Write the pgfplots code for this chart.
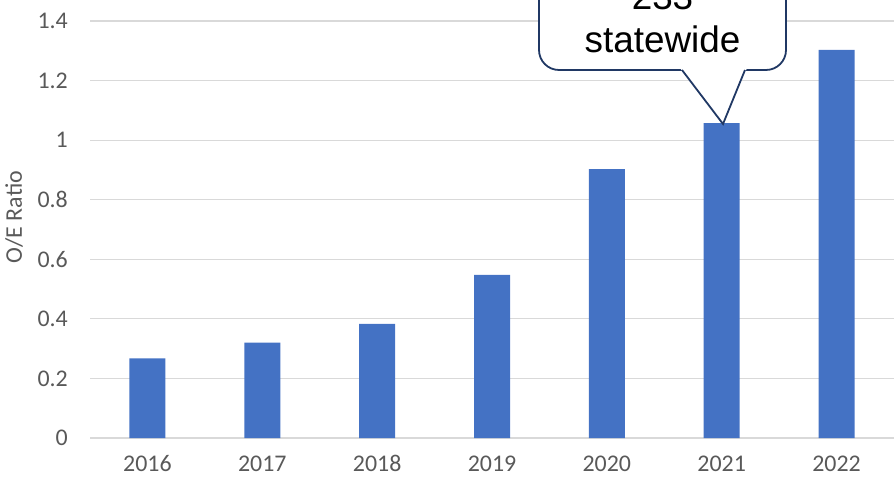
\documentclass[border=0pt]{standalone}
\usepackage{pgfplots}
\pgfplotsset{compat=1.18}
\usepackage{fontspec}
\setmainfont{Carlito}
\newfontfamily\calloutfont{Liberation Sans}
\definecolor{barblue}{HTML}{4472C4}
\definecolor{gridgray}{HTML}{D9D9D9}
\definecolor{labelgray}{HTML}{595959}
\definecolor{navy}{HTML}{203864}
\begin{document}
\begin{tikzpicture}
\useasboundingbox (0,0) rectangle (894bp,477bp);
\clip (0,0) rectangle (894bp,477bp);
\begin{axis}[
  at={(90bp,39bp)}, anchor=south west,
  scale only axis, width=804bp, height=417bp,
  xmin=-0.5, xmax=6.5, ymin=0, ymax=1.4,
  axis line style={draw=none},
  major tick style={draw=none},
  ymajorgrids, grid style={color=gridgray, line width=1.2bp},
  xtick={0,1,2,3,4,5,6},
  xticklabels={2016,2017,2018,2019,2020,2021,2022},
  ytick={0,0.2,0.4,0.6,0.8,1,1.2,1.4},
  yticklabels={0,0.2,0.4,0.6,0.8,1,1.2,1.4},
  tick label style={font=\fontsize{24}{26}\selectfont, text=labelgray},
  yticklabel style={anchor=east, inner sep=0pt, xshift=-22bp},
  xticklabel style={anchor=base, inner sep=0pt, yshift=-33bp},
  clip=false,
]
\addplot[ybar, bar width=36bp, fill=barblue, draw=none] coordinates {
  (0,0.267) (1,0.320) (2,0.383) (3,0.548) (4,0.903) (5,1.057) (6,1.303)
};
\end{axis}
\node[rotate=90, text=labelgray, font=\fontsize{24}{26}\selectfont] at (14bp,260bp) {O/E Ratio};
% callout
\filldraw[fill=white, draw=navy, line width=1.8bp, rounded corners=20bp] (539bp,407bp) rectangle (786bp,540bp);
\fill[white] (680bp,409bp) -- (723bp,353bp) -- (747bp,409bp) -- cycle;
\draw[navy, line width=1.8bp, line join=miter] (682bp,407bp) -- (723bp,353bp) -- (745bp,407bp);
\node[anchor=base, font=\calloutfont\fontsize{37}{42}\selectfont] at (662.5bp,424bp) {statewide};
\node[anchor=base, font=\calloutfont\fontsize{37}{42}\selectfont] at (662.5bp,467bp) {233};
\end{tikzpicture}
\end{document}
